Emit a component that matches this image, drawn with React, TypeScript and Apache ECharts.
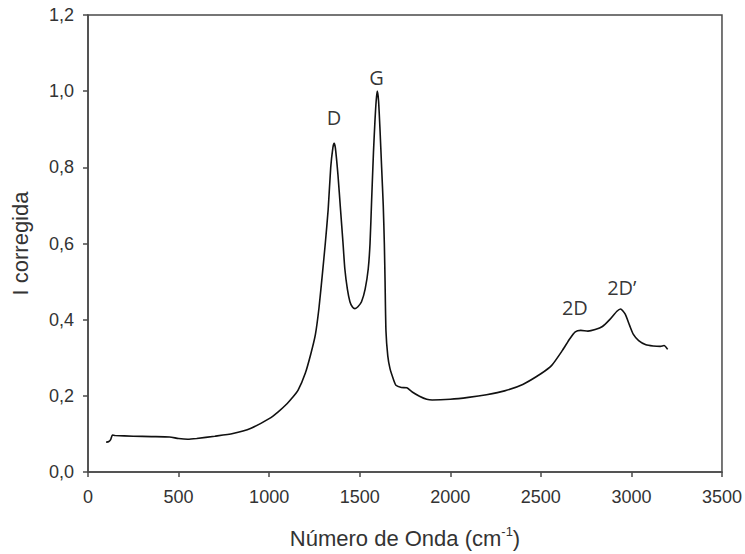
import React, { useEffect, useRef } from "react";
import * as echarts from "echarts";

const spectrum: [number, number][] = [
  [100, 0.078], [115, 0.08], [125, 0.085], [135, 0.097], [150, 0.096], [250, 0.094],
  [350, 0.093], [450, 0.092], [500, 0.088], [550, 0.086], [600, 0.088], [700, 0.094],
  [800, 0.101], [900, 0.115], [1000, 0.14], [1050, 0.158], [1100, 0.18], [1130, 0.196],
  [1160, 0.215], [1200, 0.26], [1230, 0.31], [1255, 0.36], [1275, 0.43], [1295, 0.525],
  [1310, 0.6], [1326, 0.69], [1340, 0.8], [1352, 0.852], [1359, 0.863], [1366, 0.85],
  [1380, 0.78], [1394, 0.69], [1408, 0.6], [1418, 0.533], [1432, 0.48], [1446, 0.447],
  [1460, 0.433], [1474, 0.429], [1490, 0.434], [1510, 0.447], [1530, 0.48], [1547, 0.533],
  [1557, 0.6], [1566, 0.716], [1576, 0.84], [1584, 0.92], [1591, 0.975], [1597, 1.0],
  [1604, 0.975], [1612, 0.9], [1621, 0.8], [1630, 0.7], [1636, 0.6], [1640, 0.5],
  [1645, 0.37], [1655, 0.305], [1667, 0.272], [1685, 0.245], [1700, 0.228], [1730, 0.222],
  [1760, 0.221], [1790, 0.21], [1830, 0.199], [1870, 0.191], [1900, 0.189], [2000, 0.191],
  [2100, 0.196], [2200, 0.203], [2300, 0.213], [2400, 0.23], [2500, 0.258], [2560, 0.28],
  [2620, 0.32], [2660, 0.35], [2690, 0.368], [2720, 0.372], [2760, 0.37], [2800, 0.374],
  [2840, 0.382], [2880, 0.4], [2920, 0.422], [2940, 0.428], [2965, 0.415], [2990, 0.385],
  [3010, 0.362], [3040, 0.345], [3080, 0.334], [3120, 0.331], [3160, 0.33], [3180, 0.332],
  [3200, 0.322],
];

const peakNames = ["D", "G", "2D", "2D\u2019"];
const peakX = [1358, 1593, 2688, 2947];
const peakY = [0.931, 1.036, 0.431, 0.484];

const xTicks = { min: 0, max: 3500, interval: 500 };
const yTicks = { min: 0, max: 1.2, interval: 0.2 };

export default function App() {
  const ref = useRef<HTMLDivElement>(null);
  useEffect(() => {
    if (!ref.current) return;
    const chart = echarts.init(ref.current, undefined, { renderer: "svg" });
    const axisColor = "#4a4a4a";
    const labelStyle = {
      fontFamily: "Liberation Sans, Arial, sans-serif",
      fontSize: 18,
      color: "#333",
    };
    chart.setOption({
      animation: false,
      backgroundColor: "#fff",
      grid: {
        left: 88,
        right: 23,
        top: 15,
        bottom: 80,
        show: true,
        borderColor: axisColor,
        borderWidth: 1.5,
        backgroundColor: "transparent",
      },
      xAxis: {
        type: "value",
        min: xTicks.min,
        max: xTicks.max,
        interval: xTicks.interval,
        splitLine: { show: false },
        axisLine: { show: true, onZero: false, lineStyle: { color: axisColor, width: 1.5 } },
        axisTick: { show: true, length: 5, lineStyle: { color: axisColor, width: 1.5 } },
        axisLabel: { ...labelStyle, margin: 16, formatter: (v: number) => String(v) },
        name: "{a|Número de Onda (cm}{s|-1}{a|)}",
        nameLocation: "middle",
        nameGap: 53,
        nameTextStyle: {
          rich: {
            a: { fontFamily: "Liberation Sans, Arial, sans-serif", fontSize: 22, color: "#333", lineHeight: 26 },
            s: { fontFamily: "Liberation Sans, Arial, sans-serif", fontSize: 13, color: "#333", lineHeight: 13, verticalAlign: "top" },
          },
        },
      },
      yAxis: {
        type: "value",
        min: yTicks.min,
        max: yTicks.max,
        interval: yTicks.interval,
        splitLine: { show: false },
        axisLine: { show: true, onZero: false, lineStyle: { color: axisColor, width: 1.5 } },
        axisTick: { show: true, length: 5, lineStyle: { color: axisColor, width: 1.5 } },
        axisLabel: {
          ...labelStyle,
          margin: 14,
          formatter: (v: number) => v.toFixed(1).replace(".", ","),
        },
        name: "I corregida",
        nameLocation: "middle",
        nameRotate: 90,
        nameGap: 57,
        nameTextStyle: { fontFamily: "Liberation Sans, Arial, sans-serif", fontSize: 22, color: "#333" },
      },
      series: [
        {
          type: "line",
          data: spectrum,
          showSymbol: false,
          smooth: 0.2,
          lineStyle: { color: "#111", width: 1.6 },
        },
        {
          type: "scatter",
          symbolSize: 1,
          itemStyle: { color: "transparent" },
          data: peakNames.map((n, i) => ({ name: n, value: [peakX[i], peakY[i]] })),
          label: {
            show: true,
            position: "inside",
            formatter: "{b}",
            fontFamily: "Open Sans, Noto Sans, sans-serif",
            fontSize: 20,
            color: "#000",
          },
        },
      ],
    });
    return () => chart.dispose();
  }, []);
  return <div ref={ref} style={{ width: 745, height: 554, position: "absolute", left: 0, top: 0 }} />;
}
